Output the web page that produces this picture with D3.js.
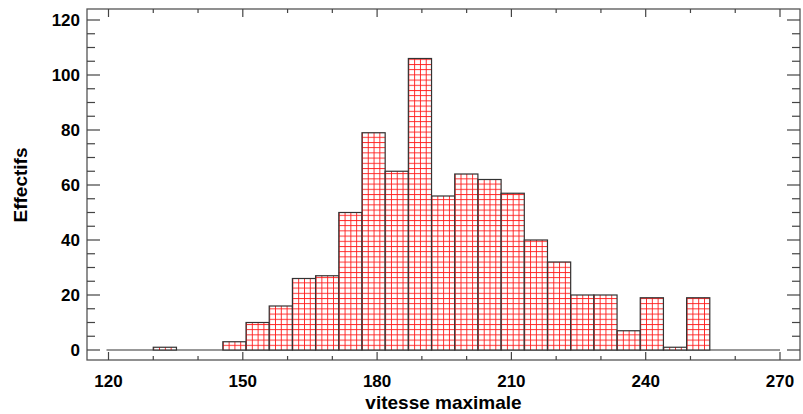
<!DOCTYPE html>
<html>
<head>
<meta charset="utf-8">
<script src="https://cdn.jsdelivr.net/npm/d3@7"></script>
<style>
  body { margin: 0; background: #fff; }
  text { font-family: "Liberation Sans", Arial, sans-serif; font-weight: bold; fill: #000; }
</style>
</head>
<body>
<div class="container"></div>
<script>
// histogram of "vitesse maximale": bins start at 130, width ~5.18
var binStart = 130;
var binWidth = 5.18;
var counts = [1, 0, 0, 3, 10, 16, 26, 27, 50, 79, 65, 106, 56, 64, 62, 57, 40, 32, 20, 20, 7, 19, 1, 19];
var xMajor = [120, 150, 180, 210, 240, 270];
var yMajor = [0, 20, 40, 60, 80, 100, 120];

var bins = counts.map(function(c, i) {
  return { x0: binStart + i * binWidth, x1: binStart + (i + 1) * binWidth, n: c };
});

var W = 803, H = 414;
var frame = { left: 87, right: 800, top: 9, bottom: 360 };

var x = d3.scaleLinear().domain([120, 270]).range([108.5, 780]);
var y = d3.scaleLinear().domain([0, 120]).range([350, 20]);

var svg = d3.select(".container")
  .append("svg")
    .attr("width", W)
    .attr("height", H);

// red grid hatch
var cellW = (x(binStart + binWidth) - x(binStart)) / 4;
var cellH = 5.2;
var pat = svg.append("defs").append("pattern")
  .attr("id", "grid")
  .attr("patternUnits", "userSpaceOnUse")
  .attr("x", x(binStart))
  .attr("y", y(0))
  .attr("width", cellW)
  .attr("height", cellH);
pat.append("rect").attr("width", cellW).attr("height", cellH).attr("fill", "#fff");
pat.append("line").attr("x1", 0.5).attr("x2", 0.5).attr("y1", 0).attr("y2", cellH)
  .attr("stroke", "#ff1a1a").attr("stroke-width", 0.9);
pat.append("line").attr("x1", 0).attr("x2", cellW).attr("y1", 0.5).attr("y2", 0.5)
  .attr("stroke", "#ff1a1a").attr("stroke-width", 0.9);

// baseline at zero
svg.append("line")
  .attr("x1", x(120) - 2).attr("x2", x(270))
  .attr("y1", y(0)).attr("y2", y(0))
  .attr("stroke", "#333").attr("stroke-width", 1.2);

// bars
svg.append("g")
  .selectAll("rect")
  .data(bins.filter(function(d) { return d.n > 0; }))
  .enter()
  .append("rect")
    .attr("x", function(d) { return x(d.x0); })
    .attr("y", function(d) { return y(d.n); })
    .attr("width", function(d) { return x(d.x1) - x(d.x0); })
    .attr("height", function(d) { return y(0) - y(d.n); })
    .attr("fill", "url(#grid)")
    .attr("stroke", "#333")
    .attr("stroke-width", 1.2);

// frame
svg.append("rect")
  .attr("x", frame.left).attr("y", frame.top)
  .attr("width", frame.right - frame.left)
  .attr("height", frame.bottom - frame.top)
  .attr("fill", "none")
  .attr("stroke", "#555")
  .attr("stroke-width", 1.3);

// ticks
var ticks = svg.append("g").attr("stroke", "#444").attr("stroke-width", 1.2);
d3.range(0, 121, 5).forEach(function(v) {
  var len = v % 20 === 0 ? 13 : 8;
  ticks.append("line").attr("x1", frame.left).attr("x2", frame.left + len)
    .attr("y1", y(v)).attr("y2", y(v));
  ticks.append("line").attr("x1", frame.right).attr("x2", frame.right - len)
    .attr("y1", y(v)).attr("y2", y(v));
});
d3.range(120, 271, 10).forEach(function(v) {
  var len = v % 30 === 0 ? 8 : 4;
  ticks.append("line").attr("x1", x(v)).attr("x2", x(v))
    .attr("y1", frame.bottom).attr("y2", frame.bottom - len);
  ticks.append("line").attr("x1", x(v)).attr("x2", x(v))
    .attr("y1", frame.top).attr("y2", frame.top + len);
});

// tick labels
svg.append("g")
  .selectAll("text")
  .data(yMajor)
  .enter()
  .append("text")
    .attr("x", 80)
    .attr("y", function(d) { return y(d); })
    .attr("dy", "0.35em")
    .attr("text-anchor", "end")
    .style("font-size", "17px")
    .text(function(d) { return d; });

svg.append("g")
  .selectAll("text")
  .data(xMajor)
  .enter()
  .append("text")
    .attr("x", function(d) { return x(d); })
    .attr("y", 387)
    .attr("text-anchor", "middle")
    .style("font-size", "17px")
    .text(function(d) { return d; });

// axis titles
svg.append("text")
  .attr("x", (frame.left + frame.right) / 2)
  .attr("y", 409)
  .attr("text-anchor", "middle")
  .style("font-size", "19px")
  .text("vitesse maximale");

svg.append("text")
  .attr("transform", "translate(27,185) rotate(-90)")
  .attr("text-anchor", "middle")
  .style("font-size", "19px")
  .text("Effectifs");
</script>
</body>
</html>
